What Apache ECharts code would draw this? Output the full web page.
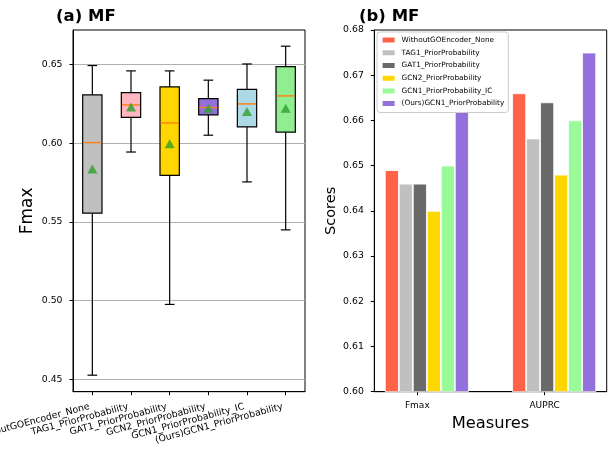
<!DOCTYPE html>
<html><head><meta charset="utf-8">
<script src="https://cdn.jsdelivr.net/npm/echarts@6/dist/echarts.min.js"></script>
<style>html,body{margin:0;padding:0;background:#fff}#c{width:611px;height:451px}</style>
</head><body><div id="c"></div>
<script>
// ---------- (a) MF box plot data ----------
const boxCategories = ['WithoutGOEncoder_None','TAG1_PriorProbability','GAT1_PriorProbability','GCN2_PriorProbability','GCN1_PriorProbability_IC','(Ours)GCN1_PriorProbability'];
const boxMin    = [0.4525, 0.5944, 0.4975, 0.6051, 0.5754, 0.5449];
const boxQ1     = [0.5555, 0.6165, 0.5796, 0.6180, 0.6104, 0.6070];
const boxMedian = [0.6004, 0.6244, 0.6129, 0.6227, 0.6250, 0.6301];
const boxQ3     = [0.6307, 0.6322, 0.6358, 0.6284, 0.6343, 0.6487];
const boxMax    = [0.6494, 0.6460, 0.6460, 0.6401, 0.6504, 0.6617];
const boxMean   = [0.5836, 0.6230, 0.5996, 0.6223, 0.6201, 0.6223];
const boxColors = ['#C0C0C0','#FFB6C1','#FFD700','#9370DB','#ADD8E6','#90EE90'];
const leftYTicks = [0.45, 0.50, 0.55, 0.60, 0.65];

// ---------- (b) MF bar chart data ----------
const measures = ['Fmax', 'AUPRC'];
const barSeriesNames = ['WithoutGOEncoder_None','TAG1_PriorProbability','GAT1_PriorProbability','GCN2_PriorProbability','GCN1_PriorProbability_IC','(Ours)GCN1_PriorProbability'];
const withoutGOEncoder = [0.649, 0.666];
const tag1Prior        = [0.646, 0.656];
const gat1Prior        = [0.646, 0.664];
const gcn2Prior        = [0.640, 0.648];
const gcn1PriorIC      = [0.650, 0.660];
const oursGcn1Prior    = [0.662, 0.675];
const barColors = ['#FF6347','#C0C0C0','#696969','#FFD700','#98FB98','#9370DB'];
const rightYTicksInterval = 0.01;

const barValueLists = [withoutGOEncoder, tag1Prior, gat1Prior, gcn2Prior, gcn1PriorIC, oursGcn1Prior];
const nBars = barValueLists.length;
const w = 0.11;                       // bar width in measure units (matplotlib style)
const groupCenters = measures.map((m, g) => g + (nBars - 1) / 2 * w);
const tickPositions = measures.map((m, g) => g + 0.2);
const span = 1 + nBars * w;
const xMin = -w / 2 - 0.05 * span;
const xMax = 1 + (nBars - 0.5) * w + 0.05 * span;

const FONT = 'DejaVu Sans';
const chart = echarts.init(document.getElementById('c'), null, {renderer: 'canvas'});

const boxData = boxCategories.map((c, i) => [i, boxMin[i], boxQ1[i], boxMedian[i], boxQ3[i], boxMax[i]]);

const option = {
  animation: false,
  backgroundColor: '#fff',
  title: [
    {text: '(a) MF', left: 56, top: 8, padding: 0, textStyle: {fontFamily: FONT, fontSize: 16.5, fontWeight: 'bold', color: '#000'}},
    {text: '(b) MF', left: 359, top: 8, padding: 0, textStyle: {fontFamily: FONT, fontSize: 16.5, fontWeight: 'bold', color: '#000'}}
  ],
  legend: {
    data: barSeriesNames,
    orient: 'vertical',
    left: 377, top: 32,
    padding: [3.6, 4, 4.4, 3.6],
    itemWidth: 14, itemHeight: 7, itemGap: 3.7,
    icon: 'rect',
    textStyle: {fontFamily: FONT, fontSize: 7.3, color: '#000', padding: [0, 0, 0, 1]},
    borderColor: '#cccccc', borderWidth: 1, borderRadius: 3,
    backgroundColor: 'rgba(255,255,255,0.8)'
  },
  grid: [
    {left: 73, right: 306, top: 30, bottom: 59.3, outerBoundsMode: 'none', containLabel: false, show: true, borderColor: '#000', borderWidth: 1, backgroundColor: 'transparent'},
    {left: 374.3, right: 4.3, top: 30, bottom: 59.3, outerBoundsMode: 'none', containLabel: false, show: true, borderColor: '#000', borderWidth: 1, backgroundColor: 'transparent'}
  ],
  xAxis: [
    {
      gridIndex: 0, type: 'category', data: boxCategories, boundaryGap: true,
      axisLine: {show: true, lineStyle: {color: '#000', width: 1}},
      axisTick: {show: true, alignWithLabel: true, length: 3.5, lineStyle: {color: '#000'}},
      axisLabel: {interval: 0, rotate: 15, margin: 14, padding: [0, 3, 0, 0], fontFamily: FONT, fontSize: 9.4, color: '#000'},
      splitLine: {show: false}
    },
    {
      gridIndex: 1, type: 'value', min: xMin, max: xMax,
      name: 'Measures', nameLocation: 'middle', nameGap: 24,
      nameTextStyle: {fontFamily: FONT, fontSize: 16.3, color: '#000'},
      axisLine: {show: true, onZero: false, lineStyle: {color: '#000', width: 1}},
      axisTick: {show: true, length: 3.5, customValues: tickPositions, lineStyle: {color: '#000'}},
      axisLabel: {customValues: tickPositions, margin: 9.5, fontFamily: FONT, fontSize: 9, color: '#000',
        formatter: v => { let best = 0; tickPositions.forEach((t, k) => { if (Math.abs(t - v) < Math.abs(tickPositions[best] - v)) best = k; }); return measures[best]; }},
      splitLine: {show: false}
    }
  ],
  yAxis: [
    {
      gridIndex: 0, type: 'value', min: 0.442, max: 0.672,
      name: 'Fmax', nameLocation: 'middle', nameGap: 37,
      nameTextStyle: {fontFamily: FONT, fontSize: 17, color: '#000'},
      axisLine: {show: true, onZero: false, lineStyle: {color: '#000', width: 1}},
      axisTick: {show: true, length: 3.5, customValues: leftYTicks, lineStyle: {color: '#000'}},
      axisLabel: {customValues: leftYTicks, margin: 10.5, fontFamily: FONT, fontSize: 9.3, color: '#000', formatter: v => v.toFixed(2)},
      splitLine: {show: true, lineStyle: {color: '#b0b0b0', width: 1}}
    },
    {
      gridIndex: 1, type: 'value', min: 0.60, max: 0.68, interval: rightYTicksInterval,
      name: 'Scores', nameLocation: 'middle', nameGap: 34,
      nameTextStyle: {fontFamily: FONT, fontSize: 14.5, color: '#000'},
      axisLine: {show: true, onZero: false, lineStyle: {color: '#000', width: 1}},
      axisTick: {show: true, length: 3.5, lineStyle: {color: '#000'}},
      axisLabel: {margin: 10.5, fontFamily: FONT, fontSize: 9.3, color: '#000', formatter: v => v.toFixed(2)},
      splitLine: {show: false}
    }
  ],
  series: [
    {
      type: 'custom', xAxisIndex: 0, yAxisIndex: 0, data: boxData,
      encode: {x: 0, y: [1, 2, 3, 4, 5]}, z: 3,
      renderItem: (params, api) => {
        const i = api.value(0);
        const lo = api.coord([i, api.value(1)]);
        const q1 = api.coord([i, api.value(2)]);
        const md = api.coord([i, api.value(3)]);
        const q3 = api.coord([i, api.value(4)]);
        const hi = api.coord([i, api.value(5)]);
        const band = api.size([1, 0])[0];
        const bw = band * 0.5, cw = band * 0.25;
        const x = lo[0];
        const ls = {stroke: '#000', lineWidth: 1.2};
        return {type: 'group', children: [
          {type: 'line', shape: {x1: x, y1: lo[1], x2: x, y2: q1[1]}, style: ls},
          {type: 'line', shape: {x1: x, y1: q3[1], x2: x, y2: hi[1]}, style: ls},
          {type: 'line', shape: {x1: x - cw / 2, y1: lo[1], x2: x + cw / 2, y2: lo[1]}, style: ls},
          {type: 'line', shape: {x1: x - cw / 2, y1: hi[1], x2: x + cw / 2, y2: hi[1]}, style: ls},
          {type: 'rect', shape: {x: x - bw / 2, y: q3[1], width: bw, height: q1[1] - q3[1]}, style: {fill: boxColors[params.dataIndex], stroke: '#000', lineWidth: 1.2}},
          {type: 'line', shape: {x1: x - bw / 2 + 0.6, y1: md[1], x2: x + bw / 2 - 0.6, y2: md[1]}, style: {stroke: '#ff7f0e', lineWidth: 1.4}}
        ]};
      }
    },
    {
      type: 'scatter', xAxisIndex: 0, yAxisIndex: 0, z: 4,
      data: boxMean.map((v, i) => [i, v]),
      symbol: 'triangle', symbolSize: [10, 9],
      itemStyle: {color: '#2ca02c'}
    },
    ...barSeriesNames.map((name, s) => ({
      type: 'bar', name, xAxisIndex: 1, yAxisIndex: 1,
      data: barValueLists[s].map((v, g) => [groupCenters[g], v]),
      barWidth: 14, barGap: '0%',
      itemStyle: {color: barColors[s], borderColor: '#fff', borderWidth: 0.8},
      clip: true
    }))
  ]
};
chart.setOption(option);
</script>
</body></html>
